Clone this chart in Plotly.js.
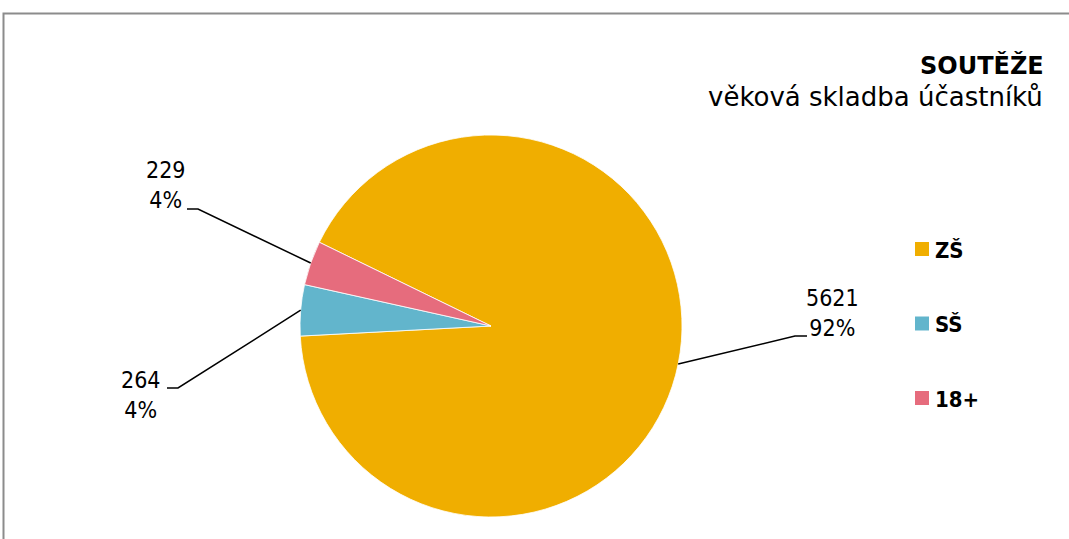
<!DOCTYPE html>
<html>
<head>
<meta charset="utf-8">
<script src="https://cdn.plot.ly/plotly-3.0.1.min.js"></script>
<style>html,body{margin:0;padding:0;background:#fff}#chart{width:1069px;height:539px}</style>
</head>
<body>
<div id="chart"></div>
<script>
// ---- data ----
const categories = ['ZŠ', 'SŠ', '18+'];
const values = [5621, 264, 229];
const colors = ['#F0AE00', '#62B5CC', '#E66C7D'];
const titleText = 'SOUTĚŽE';
const subtitleText = 'věková skladba účastníků';

// ---- layout helpers ----
const W = 1069, H = 539;
const px = x => x / W;
const py = y => 1 - y / H;
const FONT = '"DejaVu Sans Condensed", "DejaVu Sans", sans-serif';
const FONT_W = '"DejaVu Sans", sans-serif';

const pieCx = 491, pieCy = 326, pieR = 191;
const rotation = -64; // degrees, clockwise from 12 o'clock

// label placement (pixel layout): text centre, elbow, end of horizontal tick
const labelLayout = [
  {tx: 832, ty: 313, elbow: [795, 336], tick: [807, 336]},
  {tx: 141, ty: 395, elbow: [178, 388], tick: [167, 388]},
  {tx: 166, ty: 185, elbow: [198, 209], tick: [187, 209]}
];

const total = values.reduce((a, b) => a + b, 0);
const shapes = [];
const annotations = [];

// frame
shapes.push({type: 'rect', xref: 'paper', yref: 'paper', x0: px(3.5), y0: -0.1, x1: 1.1, y1: py(13.5),
  line: {color: '#8c8c8c', width: 2}, fillcolor: 'rgba(0,0,0,0)'});

// data labels with leader lines (edge points derived from values)
let acc = 0;
values.forEach((v, i) => {
  const mid = rotation + (acc + v / 2) / total * 360;
  acc += v;
  const a = mid * Math.PI / 180;
  const ex = pieCx + pieR * Math.sin(a);
  const ey = pieCy - pieR * Math.cos(a);
  const L = labelLayout[i];
  shapes.push({type: 'path', xref: 'paper', yref: 'paper',
    path: `M ${px(ex)} ${py(ey)} L ${px(L.elbow[0])} ${py(L.elbow[1])} L ${px(L.tick[0])} ${py(L.tick[1])}`,
    line: {color: '#000', width: 1.5}});
  const pct = Math.round(v / total * 100);
  annotations.push({xref: 'paper', yref: 'paper', x: px(L.tx), y: py(L.ty), xanchor: 'center', yanchor: 'middle',
    text: v + '<br>' + pct + '%', showarrow: false, align: 'center',
    font: {family: FONT, size: 23, color: '#000'}});
});

// legend (drawn from categories/colors)
const legX = 915, legY0 = 249, legStep = 74.5, sq = 14;
categories.forEach((c, i) => {
  const cy = legY0 + i * legStep;
  shapes.push({type: 'rect', xref: 'paper', yref: 'paper', x0: px(legX), x1: px(legX + sq),
    y0: py(cy + sq / 2), y1: py(cy - sq / 2), line: {width: 0}, fillcolor: colors[i]});
  annotations.push({xref: 'paper', yref: 'paper', x: px(legX + sq + 4), y: py(cy + 1), xanchor: 'left', yanchor: 'middle',
    text: '<b>' + c + '</b>', showarrow: false, font: {family: FONT, size: 22, color: '#000'}});
});

// title
annotations.push({xref: 'paper', yref: 'paper', x: px(1046), y: py(65), xanchor: 'right', yanchor: 'middle',
  text: '<b>' + titleText + '</b>', showarrow: false, font: {family: FONT_W, size: 24, color: '#000'}});
annotations.push({xref: 'paper', yref: 'paper', x: px(1045), y: py(97), xanchor: 'right', yanchor: 'middle',
  text: subtitleText, showarrow: false, font: {family: FONT_W, size: 26, color: '#000'}});

const trace = {
  type: 'pie',
  labels: categories,
  values: values,
  sort: false,
  direction: 'clockwise',
  rotation: rotation,
  textinfo: 'none',
  hoverinfo: 'label+value+percent',
  marker: {colors: colors, line: {color: '#ffffff', width: 0.8}},
  domain: {x: [px(pieCx - pieR), px(pieCx + pieR)], y: [py(pieCy + pieR), py(pieCy - pieR)]}
};

Plotly.newPlot('chart', [trace], {
  width: W, height: H,
  margin: {l: 0, r: 0, t: 0, b: 0},
  paper_bgcolor: '#fff',
  showlegend: false,
  shapes: shapes,
  annotations: annotations
}, {displayModeBar: false, staticPlot: true});
</script>
</body>
</html>
